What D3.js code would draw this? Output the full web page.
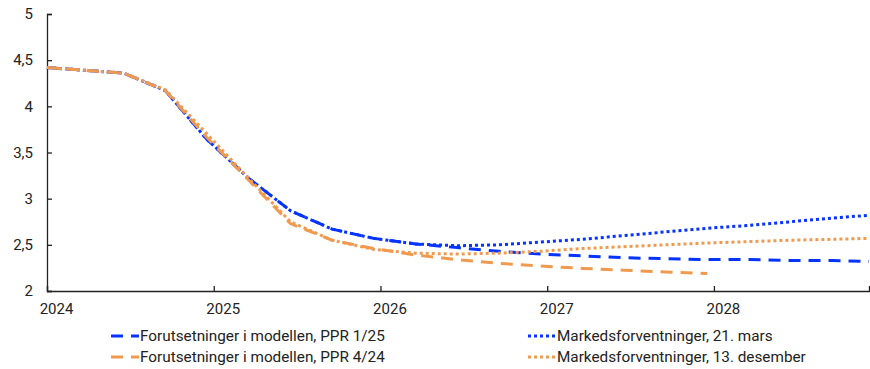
<!DOCTYPE html>
<html><head><meta charset="utf-8">
<script src="https://cdn.jsdelivr.net/npm/d3@7"></script>
<style>body{margin:0;background:#fff;} text{font-family:Roboto, "Liberation Sans", sans-serif; fill:#222;}</style>
</head><body><svg id="c" width="870" height="369"></svg>
<script>
// Quarterly positions in decimal years
const tBlueDash = [2024.0,2024.46,2024.71,2024.96,2025.21,2025.46,2025.71,2025.96,2026.21,2026.46,2026.71,2026.96,2027.21,2027.46,2027.71,2027.96,2028.21,2028.46,2028.71,2028.93];
const vBlueDash = [4.42,4.36,4.17,3.64,3.22,2.87,2.67,2.57,2.51,2.47,2.43,2.40,2.38,2.36,2.35,2.34,2.34,2.33,2.33,2.32];

const tOrangeDash = [2024.0,2024.46,2024.71,2024.96,2025.21,2025.46,2025.71,2025.96,2026.21,2026.46,2026.71,2026.96,2027.21,2027.46,2027.71,2027.96];
const vOrangeDash = [4.42,4.36,4.17,3.66,3.20,2.73,2.55,2.46,2.39,2.34,2.30,2.27,2.245,2.225,2.205,2.19];

const tBlueDot = [2024.0,2024.46,2024.71,2024.96,2025.21,2025.46,2025.71,2025.96,2026.21,2026.46,2026.71,2026.96,2027.21,2027.46,2027.71,2027.96,2028.21,2028.46,2028.71,2028.93];
const vBlueDot = [4.42,4.36,4.17,3.64,3.22,2.87,2.67,2.57,2.51,2.49,2.50,2.53,2.56,2.60,2.64,2.68,2.71,2.75,2.79,2.82];

const tOrangeDot = [2024.0,2024.46,2024.71,2024.96,2025.21,2025.46,2025.71,2025.96,2026.21,2026.46,2026.71,2026.96,2027.21,2027.46,2027.71,2027.96,2028.21,2028.46,2028.71,2028.93];
const vOrangeDot = [4.42,4.36,4.18,3.70,3.22,2.75,2.55,2.45,2.41,2.40,2.41,2.43,2.46,2.48,2.50,2.52,2.535,2.55,2.56,2.57];

const xTicks = [2024,2025,2026,2027,2028];
const yTicks = [2,2.5,3,3.5,4,4.5,5];

const legendLabels = ["Forutsetninger i modellen, PPR 1/25","Markedsforventninger, 21. mars","Forutsetninger i modellen, PPR 4/24","Markedsforventninger, 13. desember"];

const BLUE = "#0533ff", ORANGE = "#f09a50";

const svg = d3.select("#c");
const x = d3.scaleLinear().domain([2024, 2028.93]).range([47, 869]);
const y = d3.scaleLinear().domain([2, 5]).range([291, 14]);

// axes
const yAxis = d3.axisLeft(y).tickValues(yTicks).tickSize(-5).tickPadding(14)
  .tickFormat(d => String(d).replace(".", ","));
const gy = svg.append("g").attr("transform", "translate(47,0)").call(yAxis);
gy.select(".domain").attr("stroke", "#222").attr("stroke-width", 1.3);
gy.selectAll(".tick line").attr("stroke", "#222").attr("stroke-width", 1.3);
gy.selectAll(".tick text").attr("font-size", 15).attr("fill", "#222");

const xAxis = d3.axisBottom(x).tickValues(xTicks).tickSize(-5).tickPadding(12).tickFormat(d3.format("d"));
const gx = svg.append("g").attr("transform", "translate(0,291)").call(xAxis);
gx.select(".domain").attr("stroke", "#222").attr("stroke-width", 1.3);
gx.selectAll(".tick line").attr("stroke", "#222").attr("stroke-width", 1.3);
gx.selectAll(".tick text").attr("font-size", 15).attr("fill", "#222").attr("dx", 9);

const line = d3.line().x(d => x(d[0])).y(d => y(d[1])).curve(d3.curveLinear);
function series(t, v, color, dash) {
  svg.append("path").datum(t.map((tt, i) => [tt, v[i]]))
    .attr("d", line).attr("fill", "none").attr("stroke", color)
    .attr("stroke-width", 3).attr("stroke-dasharray", dash);
}
series(tBlueDash, vBlueDash, BLUE, "12,8");
series(tBlueDot, vBlueDot, BLUE, "3,3");
series(tOrangeDash, vOrangeDash, ORANGE, "12,8");
series(tOrangeDot, vOrangeDot, ORANGE, "3,3");

// legend
const leg = [
  {label: legendLabels[0], color: BLUE, dash: "12,8", lx: 111, ly: 336},
  {label: legendLabels[1], color: BLUE, dash: "3,3", lx: 528, ly: 336},
  {label: legendLabels[2], color: ORANGE, dash: "12,8", lx: 111, ly: 357},
  {label: legendLabels[3], color: ORANGE, dash: "3,3", lx: 528, ly: 357}
];
leg.forEach(l => {
  svg.append("line").attr("x1", l.lx).attr("x2", l.lx + 28).attr("y1", l.ly).attr("y2", l.ly)
    .attr("stroke", l.color).attr("stroke-width", 3).attr("stroke-dasharray", l.dash);
  svg.append("text").attr("x", l.lx + 29).attr("y", l.ly).attr("dy", "0.35em")
    .attr("font-size", 15.3).text(l.label);
});
</script></body></html>
